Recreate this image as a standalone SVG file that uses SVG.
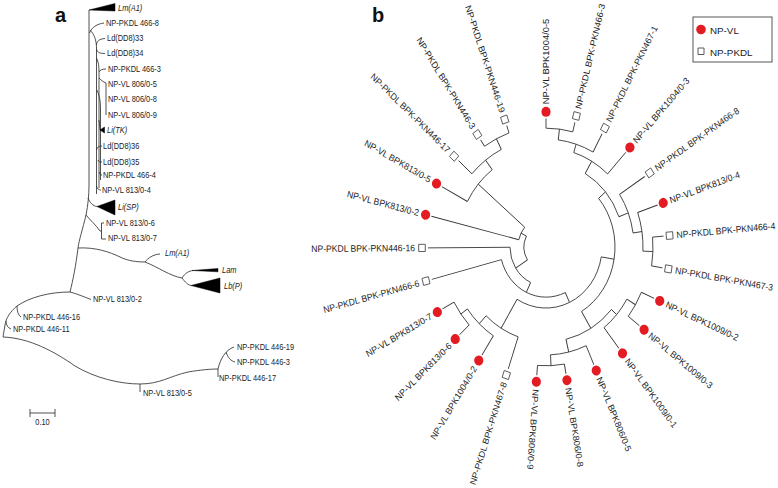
<svg xmlns="http://www.w3.org/2000/svg" width="778" height="488" viewBox="0 0 778 488">
<style>
.ln{fill:none;stroke:#333;stroke-width:0.85;vector-effect:non-scaling-stroke}
.tri{fill:#000;stroke:#000;stroke-width:0.5}
.ta{font-family:"Liberation Sans",Arial,sans-serif;font-size:9.3px;fill:#222}
.it{font-style:italic}
.tb{font-family:"Liberation Sans",Arial,sans-serif;font-size:8.6px;fill:#222}
.tl{font-family:"Liberation Sans",Arial,sans-serif;font-size:9.8px;fill:#222}
.vl{fill:#e31b23}
.pk{fill:#fff;stroke:#333;stroke-width:0.8;vector-effect:non-scaling-stroke}
.pl{font-family:"Liberation Sans",Arial,sans-serif;font-size:20px;font-weight:bold;fill:#111}
</style>
<rect width="778" height="488" fill="#fff"/>
<text class="pl" x="55" y="22">a</text>
<text class="pl" x="372" y="22">b</text>

<!-- Panel a connectors -->
<g id="connectors-a" class="ln">
<path d="M89 10 V185 C89 195 88 205 86 215 C83 228 79 240 78 248 C76 265 73 280 70 292"/>
<path d="M89.5 33 C92 27 97 24 104 23"/>
<path d="M90 30 C94 34 96.5 40 96.5 48 V194"/>
<path d="M96.5 58 C98.5 62 99 66 99 72 V188"/>
<path d="M97 90 C99 95 100.5 100 100.5 108 V180"/>
<path d="M96.5 45 C97 41 99 39 105 38.5"/>
<path d="M96.5 49 C97 52 99 53.5 105 53.5"/>
<path d="M99 72 C100 70 102 69 106 69"/>
<path d="M99 78 C101 80 103 82 106 83 V115"/>
<path d="M99 120 C99.5 125 100 128 100 130"/>
<path d="M96.5 150 C97 147 99 146 102 146"/>
<path d="M98 160 C98.5 162 100 162 102 162"/>
<path d="M99 172 C99.5 174 100.5 175 102 175"/>
<path d="M96.5 186 C97 189 99 190 101 190"/>
<path d="M88 198 C90 203 93 206 97 206.5"/>
<path d="M86 215 C90 220 96 225 100 231 H101.5"/>
<path d="M101.5 223 V239 M101.5 223 H104 M101.5 239 H106"/>
<path d="M78 248 C95 247 110 252 120 257 C128 261 137 262 145 262"/>
<path d="M145 262 C148 258 153 254.5 160 254"/>
<path d="M145 262 C158 267 170 276 182 278"/>
<path d="M182 278 C185 273 189 271 193 270.5"/>
<path d="M182 278 C185 282 188 285 191 285.5"/>
<path d="M70 292 C78 294 84 297 91 299.5"/>
<path d="M70 292 C50 292 30 297 17 306 C10 312 6 318 5 325 L3 337"/>
<path d="M17 306 C17 311 18 315 21 317"/>
<path d="M6 321 C6 325 8 328 11 329"/>
<path d="M3 337 C30 338 55 352 75 366 C95 378 120 384 140 384 C160 384 170 376 188 372 C200 370 210 369 218 369"/>
<path d="M140 384 V392"/>
<path d="M218 369 V377"/>
<path d="M218 369 C220 360 225 350 234 347"/>
<path d="M226 352 C228 358 231 361 235 362"/>
<path d="M30 413 H55 M30 409 V417 M55 409 V417"/>
</g>

<!-- Panel a nodes -->
<g id="a-LmA1-top"><polygon class="tri" points="89,10 115,3.5 115,11"/><text class="ta it" transform="translate(118 10.5) scale(0.8 1)">Lm(A1)</text></g>
<g id="a-pkdl466-8"><text class="ta" transform="translate(106 26) scale(0.8 1)">NP-PKDL 466-8</text></g>
<g id="a-ld33"><text class="ta" transform="translate(107 41) scale(0.8 1)">Ld(DD8)33</text></g>
<g id="a-ld34"><text class="ta" transform="translate(107 56) scale(0.8 1)">Ld(DD8)34</text></g>
<g id="a-pkdl466-3"><text class="ta" transform="translate(108 72) scale(0.8 1)">NP-PKDL 466-3</text></g>
<g id="a-vl806-5"><text class="ta" transform="translate(108 86.5) scale(0.8 1)">NP-VL 806/0-5</text></g>
<g id="a-vl806-8"><text class="ta" transform="translate(108 102) scale(0.8 1)">NP-VL 806/0-8</text></g>
<g id="a-vl806-9"><text class="ta" transform="translate(108 118) scale(0.8 1)">NP-VL 806/0-9</text></g>
<g id="a-LiTK"><polygon class="tri" points="100,130 104.5,127 104.5,133"/><text class="ta it" transform="translate(107 133) scale(0.8 1)">Li(TK)</text></g>
<g id="a-ld36"><text class="ta" transform="translate(103 149) scale(0.8 1)">Ld(DD8)36</text></g>
<g id="a-ld35"><text class="ta" transform="translate(103 164.5) scale(0.8 1)">Ld(DD8)35</text></g>
<g id="a-pkdl466-4"><text class="ta" transform="translate(103 178) scale(0.8 1)">NP-PKDL 466-4</text></g>
<g id="a-vl813-4"><text class="ta" transform="translate(102 193) scale(0.8 1)">NP-VL 813/0-4</text></g>
<g id="a-LiSP"><polygon class="tri" points="97,206.5 115,200 115,215"/><text class="ta it" transform="translate(118 210) scale(0.8 1)">Li(SP)</text></g>
<g id="a-vl813-6"><text class="ta" transform="translate(106 226) scale(0.8 1)">NP-VL 813/0-6</text></g>
<g id="a-vl813-7"><text class="ta" transform="translate(108 241) scale(0.8 1)">NP-VL 813/0-7</text></g>
<g id="a-LmA1-2"><text class="ta it" transform="translate(165 256) scale(0.8 1)">Lm(A1)</text></g>
<g id="a-Lam"><polygon class="tri" points="192,270.5 218,268.5 218,271.8"/><text class="ta it" transform="translate(222 273) scale(0.8 1)">Lam</text></g>
<g id="a-LbP"><polygon class="tri" points="191,285.5 220,278 220,293"/><text class="ta it" transform="translate(224 288.5) scale(0.8 1)">Lb(P)</text></g>
<g id="a-vl813-2"><text class="ta" transform="translate(93 302) scale(0.8 1)">NP-VL 813/0-2</text></g>
<g id="a-pkdl446-16"><text class="ta" transform="translate(23 320) scale(0.8 1)">NP-PKDL 446-16</text></g>
<g id="a-pkdl446-11"><text class="ta" transform="translate(13 331.5) scale(0.8 1)">NP-PKDL 446-11</text></g>
<g id="a-pkdl446-19"><text class="ta" transform="translate(237 350) scale(0.8 1)">NP-PKDL 446-19</text></g>
<g id="a-pkdl446-3"><text class="ta" transform="translate(237 365) scale(0.8 1)">NP-PKDL 446-3</text></g>
<g id="a-pkdl446-17"><text class="ta" transform="translate(219 380.5) scale(0.8 1)">NP-PKDL 446-17</text></g>
<g id="a-vl813-5"><text class="ta" transform="translate(143 395.5) scale(0.8 1)">NP-VL 813/0-5</text></g>
<g id="a-scale"><text class="ta" text-anchor="middle" transform="translate(42.5 424.5) scale(0.8 1)">0.10</text></g>

<!-- Panel b -->
<g id="panel-b" transform="translate(546 247) scale(1 1.09)">
<g id="connectors-b" class="ln">
<path transform="rotate(-90)" d="M109 0H118"/>
<path transform="rotate(-75.81)" d="M109 0H118"/>
<path transform="rotate(-61.62)" d="M99 0H118"/>
<path transform="rotate(-47.43)" d="M91 0H118"/>
<path transform="rotate(-33.24)" d="M88 0H118"/>
<path transform="rotate(-19.05)" d="M97 0H118"/>
<path transform="rotate(-4.86)" d="M107 0H118"/>
<path transform="rotate(9.33)" d="M107 0H118"/>
<path transform="rotate(23.52)" d="M104 0H118"/>
<path transform="rotate(37.71)" d="M104 0H118"/>
<path transform="rotate(51.9)" d="M94 0H118"/>
<path transform="rotate(66.09)" d="M99 0H118"/>
<path transform="rotate(80.28)" d="M109 0H118"/>
<path transform="rotate(94.47)" d="M109 0H118"/>
<path transform="rotate(108.66)" d="M87 0H118"/>
<path transform="rotate(122.85)" d="M97 0H118"/>
<path transform="rotate(137.04)" d="M105 0H118"/>
<path transform="rotate(151.23)" d="M105 0H118"/>
<path transform="rotate(165.42)" d="M46 0H118"/>
<path transform="rotate(179.61)" d="M36 0H118"/>
<path transform="rotate(193.8)" d="M28 0H118"/>
<path transform="rotate(207.99)" d="M89 0H118"/>
<path transform="rotate(222.18)" d="M100 0H118"/>
<path transform="rotate(236.37)" d="M111 0H118"/>
<path transform="rotate(250.56)" d="M111 0H118"/>
<path transform="rotate(-82.905)" d="M99 0H109"/>
<path transform="rotate(-72.26)" d="M91 0H99"/>
<path transform="rotate(-59.85)" d="M78 0H91"/>
<path transform="rotate(2.235)" d="M97 0H107"/>
<path transform="rotate(-8.41)" d="M88 0H97"/>
<path transform="rotate(-20.83)" d="M78 0H88"/>
<path transform="rotate(-40.34)" d="M69 0H78"/>
<path transform="rotate(30.615)" d="M94 0H104"/>
<path transform="rotate(41.26)" d="M87 0H94"/>
<path transform="rotate(87.375)" d="M99 0H109"/>
<path transform="rotate(76.73)" d="M87 0H99"/>
<path transform="rotate(59)" d="M69 0H87"/>
<path transform="rotate(9.33)" d="M56 0H69"/>
<path transform="rotate(144.135)" d="M97 0H105"/>
<path transform="rotate(133.49)" d="M87 0H97"/>
<path transform="rotate(121.08)" d="M56 0H87"/>
<path transform="rotate(243.465)" d="M100 0H111"/>
<path transform="rotate(232.82)" d="M89 0H100"/>
<path transform="rotate(220.41)" d="M28 0H89"/>
<path transform="rotate(65.2)" d="M46 0H56"/>
<path transform="rotate(115.31)" d="M36 0H46"/>
<path transform="rotate(147.46)" d="M22 0H36"/>
<path transform="rotate(207.1)" d="M22 0H28"/>
<path d="M0 -109 A109 109 0 0 1 26.72 -105.68"/>
<path d="M12.23 -98.24 A99 99 0 0 1 47.06 -87.10"/>
<path d="M27.73 -86.67 A91 91 0 0 1 61.54 -67.03"/>
<path d="M106.61 -9.06 A107 107 0 0 1 105.59 17.34"/>
<path d="M91.68 -31.66 A97 97 0 0 1 96.92 3.78"/>
<path d="M73.60 -48.24 A88 88 0 0 1 87.05 -12.87"/>
<path d="M39.18 -67.45 A78 78 0 0 1 72.90 -27.74"/>
<path d="M95.36 41.51 A104 104 0 0 1 82.27 63.62"/>
<path d="M80.90 47.87 A94 94 0 0 1 58.01 73.97"/>
<path d="M18.40 107.43 A109 109 0 0 1 -8.49 108.67"/>
<path d="M40.12 90.51 A99 99 0 0 1 4.53 98.90"/>
<path d="M65.41 57.37 A87 87 0 0 1 19.98 84.68"/>
<path d="M52.58 -44.68 A69 69 0 0 1 35.54 59.15"/>
<path d="M-76.88 71.52 A105 105 0 0 1 -92.03 50.54"/>
<path d="M-52.61 81.49 A97 97 0 0 1 -78.61 56.83"/>
<path d="M-27.84 82.42 A87 87 0 0 1 -59.89 63.11"/>
<path d="M-61.46 -92.43 A111 111 0 0 1 -36.94 -104.67"/>
<path d="M-74.10 -67.15 A100 100 0 0 1 -44.67 -89.47"/>
<path d="M-78.59 -41.77 A89 89 0 0 1 -53.78 -70.91"/>
<path d="M55.26 9.08 A56 56 0 0 1 -28.91 47.96"/>
<path d="M19.30 41.76 A46 46 0 0 1 -44.52 11.58"/>
<path d="M-15.39 32.54 A36 36 0 0 1 -36 0.24"/>
<path d="M-27.19 -6.68 A28 28 0 0 1 -21.32 -18.15"/>
<path d="M-18.55 11.84 A22 22 0 0 1 -19.58 -10.02"/>
</g>
<g id="b-leaf1" transform="rotate(-90)"><circle class="vl" cx="124" cy="0" r="4.6"/><text class="tb" x="131" y="3">NP-VL BPK1004/0-5</text></g>
<g id="b-leaf2" transform="rotate(-75.81)"><rect class="pk" x="120.7" y="-3.3" width="6.6" height="6.6"/><text class="tb" x="131" y="3">NP-PKDL BPK-PKN466-3</text></g>
<g id="b-leaf3" transform="rotate(-61.62)"><rect class="pk" x="120.7" y="-3.3" width="6.6" height="6.6"/><text class="tb" x="131" y="3">NP-PKDL BPK-PKN467-1</text></g>
<g id="b-leaf4" transform="rotate(-47.43)"><circle class="vl" cx="124" cy="0" r="4.6"/><text class="tb" x="131" y="3">NP-VL BPK1004/0-3</text></g>
<g id="b-leaf5" transform="rotate(-33.24)"><rect class="pk" x="120.7" y="-3.3" width="6.6" height="6.6"/><text class="tb" x="131" y="3">NP-PKDL BPK-PKN466-8</text></g>
<g id="b-leaf6" transform="rotate(-19.05)"><circle class="vl" cx="124" cy="0" r="4.6"/><text class="tb" x="131" y="3">NP-VL BPK813/0-4</text></g>
<g id="b-leaf7" transform="rotate(-4.86)"><rect class="pk" x="120.7" y="-3.3" width="6.6" height="6.6"/><text class="tb" x="131" y="3">NP-PKDL BPK-PKN466-4</text></g>
<g id="b-leaf8" transform="rotate(9.33)"><rect class="pk" x="120.7" y="-3.3" width="6.6" height="6.6"/><text class="tb" x="131" y="3">NP-PKDL BPK-PKN467-3</text></g>
<g id="b-leaf9" transform="rotate(23.52)"><circle class="vl" cx="124" cy="0" r="4.6"/><text class="tb" x="131" y="3">NP-VL BPK1009/0-2</text></g>
<g id="b-leaf10" transform="rotate(37.71)"><circle class="vl" cx="124" cy="0" r="4.6"/><text class="tb" x="131" y="3">NP-VL BPK1009/0-3</text></g>
<g id="b-leaf11" transform="rotate(51.9)"><circle class="vl" cx="124" cy="0" r="4.6"/><text class="tb" x="131" y="3">NP-VL BPK1009/0-1</text></g>
<g id="b-leaf12" transform="rotate(66.09)"><circle class="vl" cx="124" cy="0" r="4.6"/><text class="tb" x="131" y="3">NP-VL BPK806/0-5</text></g>
<g id="b-leaf13" transform="rotate(80.28)"><circle class="vl" cx="124" cy="0" r="4.6"/><text class="tb" x="131" y="3">NP-VL BPK806/0-8</text></g>
<g id="b-leaf14" transform="rotate(94.47)"><circle class="vl" cx="124" cy="0" r="4.6"/><text class="tb" x="131" y="3">NP-VL BPK806/0-9</text></g>
<g id="b-leaf15" transform="rotate(108.66)"><rect class="pk" x="120.7" y="-3.3" width="6.6" height="6.6"/><text class="tb" text-anchor="end" transform="translate(131 0) rotate(180)" y="3">NP-PKDL BPK-PKN467-8</text></g>
<g id="b-leaf16" transform="rotate(122.85)"><circle class="vl" cx="124" cy="0" r="4.6"/><text class="tb" text-anchor="end" transform="translate(131 0) rotate(180)" y="3">NP-VL BPK1004/0-2</text></g>
<g id="b-leaf17" transform="rotate(137.04)"><circle class="vl" cx="124" cy="0" r="4.6"/><text class="tb" text-anchor="end" transform="translate(131 0) rotate(180)" y="3">NP-VL BPK813/0-6</text></g>
<g id="b-leaf18" transform="rotate(151.23)"><circle class="vl" cx="124" cy="0" r="4.6"/><text class="tb" text-anchor="end" transform="translate(131 0) rotate(180)" y="3">NP-VL BPK813/0-7</text></g>
<g id="b-leaf19" transform="rotate(165.42)"><rect class="pk" x="120.7" y="-3.3" width="6.6" height="6.6"/><text class="tb" text-anchor="end" transform="translate(131 0) rotate(180)" y="3">NP-PKDL BPK-PKN466-6</text></g>
<g id="b-leaf20" transform="rotate(179.61)"><rect class="pk" x="120.7" y="-3.3" width="6.6" height="6.6"/><text class="tb" text-anchor="end" transform="translate(131 0) rotate(180)" y="3">NP-PKDL BPK-PKN446-16</text></g>
<g id="b-leaf21" transform="rotate(193.8)"><circle class="vl" cx="124" cy="0" r="4.6"/><text class="tb" text-anchor="end" transform="translate(131 0) rotate(180)" y="3">NP-VL BPK813/0-2</text></g>
<g id="b-leaf22" transform="rotate(207.99)"><circle class="vl" cx="124" cy="0" r="4.6"/><text class="tb" text-anchor="end" transform="translate(131 0) rotate(180)" y="3">NP-VL BPK813/0-5</text></g>
<g id="b-leaf23" transform="rotate(222.18)"><rect class="pk" x="120.7" y="-3.3" width="6.6" height="6.6"/><text class="tb" text-anchor="end" transform="translate(131 0) rotate(180)" y="3">NP-PKDL BPK-PKN446-17</text></g>
<g id="b-leaf24" transform="rotate(236.37)"><rect class="pk" x="120.7" y="-3.3" width="6.6" height="6.6"/><text class="tb" text-anchor="end" transform="translate(131 0) rotate(180)" y="3">NP-PKDL BPK-PKN446-3</text></g>
<g id="b-leaf25" transform="rotate(250.56)"><rect class="pk" x="120.7" y="-3.3" width="6.6" height="6.6"/><text class="tb" text-anchor="end" transform="translate(131 0) rotate(180)" y="3">NP-PKDL BPK-PKN446-19</text></g>
</g>

<g id="legend">
<rect x="693" y="17" width="79" height="45" fill="#fff" stroke="#444" stroke-width="0.9"/>
<circle class="vl" cx="701" cy="29.5" r="4.8"/>
<text class="tl" x="710" y="33.5">NP-VL</text>
<rect class="pk" x="698" y="48" width="6" height="6.5"/>
<text class="tl" x="710" y="55.5">NP-PKDL</text>
</g>
</svg>
